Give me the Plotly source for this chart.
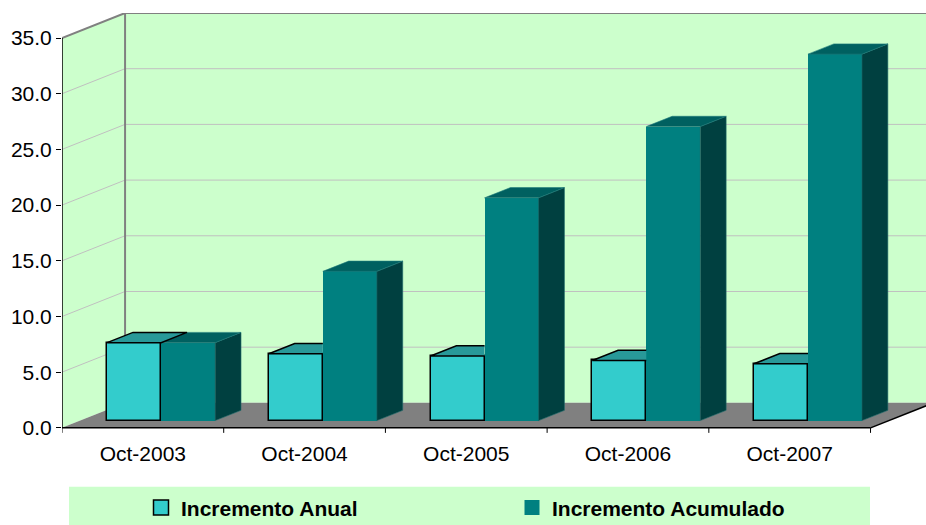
import plotly.graph_objects as go

# ---------------- data ----------------
categories = ["Oct-2003", "Oct-2004", "Oct-2005", "Oct-2006", "Oct-2007"]
anual = [7.0, 6.0, 5.8, 5.4, 5.1]
acumulado = [7.0, 13.4, 20.0, 26.4, 32.9]
series_names = ["Incremento Anual", "Incremento Acumulado"]
y_ticks = [0, 5, 10, 15, 20, 25, 30, 35]
y_labels = ["%.1f" % v for v in y_ticks]

# ---------------- pseudo-3D geometry (axis units) ----------------
DEPTH_X = 0.390      # full floor depth, x component (category units)
DEPTH_Y = 2.244      # full floor depth, y component (value units)
FRONT = 0.29         # depth fraction of bar front faces
BAR_D = 0.41         # bar depth fraction
BAR_W = 0.334        # width of each bar front face
X_MIN, X_MAX = -0.5, 4.843
Y_MIN, Y_MAX = -1.0, 35 + DEPTH_Y

fx, fy = FRONT * DEPTH_X, FRONT * DEPTH_Y
bdx, bdy = BAR_D * DEPTH_X, BAR_D * DEPTH_Y
n = len(categories)
idx = list(range(n))

C_WALL = "#CCFFCC"
C_ANUAL = "#33CCCC"
C_ANUAL_TOP = "#289999"
C_ACUM = "#008080"
C_ACUM_TOP = "#006060"
C_ACUM_SIDE = "#004040"
FONT = "Liberation Sans, Arial, sans-serif"

fig = go.Figure()

# front faces as bars
fig.add_trace(go.Bar(
    x=[k + fx - BAR_W / 2 for k in idx], y=anual, base=fy, width=BAR_W,
    marker=dict(color=C_ANUAL, line=dict(color="black", width=1.5)),
    showlegend=False, hoverinfo="skip"))
fig.add_trace(go.Bar(
    x=[k + fx + BAR_W / 2 for k in idx], y=acumulado, base=fy, width=BAR_W,
    marker=dict(color=C_ACUM, line=dict(color=C_ACUM, width=0)),
    showlegend=False, hoverinfo="skip"))

# acumulado top & side faces
top_x, top_y, side_x, side_y = [], [], [], []
for k in idx:
    x0 = k + fx
    x1 = x0 + BAR_W
    yt = fy + acumulado[k]
    top_x += [x0, x1, x1 + bdx, x0 + bdx, x0, None]
    top_y += [yt, yt, yt + bdy, yt + bdy, yt, None]
    side_x += [x1, x1 + bdx, x1 + bdx, x1, x1, None]
    side_y += [fy, fy + bdy, yt + bdy, yt, fy, None]
fig.add_trace(go.Scatter(x=side_x, y=side_y, fill="toself", fillcolor=C_ACUM_SIDE,
                         mode="lines", line=dict(color="#1f6a6a", width=0.6),
                         showlegend=False, hoverinfo="skip"))
fig.add_trace(go.Scatter(x=top_x, y=top_y, fill="toself", fillcolor=C_ACUM_TOP,
                         mode="lines", line=dict(color="#1f7a7a", width=0.6),
                         showlegend=False, hoverinfo="skip"))

# anual top faces (part hidden behind the taller neighbour is left out)
at_x, at_y, ol_x, ol_y = [], [], [], []
for k in idx:
    x0 = k + fx - BAR_W
    x1 = k + fx
    yt = fy + anual[k]
    if acumulado[k] > anual[k]:
        at_x += [x0, x1, x1, x0 + bdx, x0, None]
        at_y += [yt, yt, yt + bdy, yt + bdy, yt, None]
        ol_x += [x1, x0, x0 + bdx, x1, None]
        ol_y += [yt, yt, yt + bdy, yt + bdy, None]
    else:
        at_x += [x0, x1, x1 + bdx, x0 + bdx, x0, None]
        at_y += [yt, yt, yt + bdy, yt + bdy, yt, None]
        ol_x += [x0, x1, x1 + bdx, x0 + bdx, x0, None]
        ol_y += [yt, yt, yt + bdy, yt + bdy, yt, None]
fig.add_trace(go.Scatter(x=at_x, y=at_y, fill="toself", fillcolor=C_ANUAL_TOP,
                         mode="lines", line=dict(color=C_ANUAL_TOP, width=0),
                         showlegend=False, hoverinfo="skip"))
fig.add_trace(go.Scatter(x=ol_x, y=ol_y, mode="lines",
                         line=dict(color="black", width=1.5),
                         showlegend=False, hoverinfo="skip"))

# legend entries
fig.add_trace(go.Scatter(x=[None], y=[None], mode="markers", name=series_names[0],
                         marker=dict(symbol="square", size=15, color=C_ANUAL,
                                     line=dict(color="black", width=1.5))))
fig.add_trace(go.Scatter(x=[None], y=[None], mode="markers", name=series_names[1],
                         marker=dict(symbol="square", size=15, color=C_ACUM,
                                     line=dict(color=C_ACUM, width=0))))

# ---------------- walls, floor, gridlines ----------------
shapes = []
bx = X_MIN + DEPTH_X
# left wall
shapes.append(dict(type="path", xref="x", yref="y", layer="below",
                   path=f"M {X_MIN},0 L {X_MIN},35 L {bx},{35 + DEPTH_Y} L {bx},{DEPTH_Y} Z",
                   fillcolor=C_WALL, line=dict(width=0)))
# back wall
shapes.append(dict(type="rect", xref="x", yref="y", layer="below",
                   x0=bx, x1=X_MAX + 1, y0=DEPTH_Y, y1=35 + DEPTH_Y,
                   fillcolor=C_WALL, line=dict(width=0)))
# gridlines
for t in y_ticks[1:-1]:
    shapes.append(dict(type="line", xref="x", yref="y", layer="below",
                       x0=X_MIN, y0=t, x1=bx, y1=t + DEPTH_Y,
                       line=dict(color="#C0C0C0", width=1)))
    shapes.append(dict(type="line", xref="x", yref="y", layer="below",
                       x0=bx, y0=t + DEPTH_Y, x1=X_MAX + 1, y1=t + DEPTH_Y,
                       line=dict(color="#C0C0C0", width=1)))
# wall borders
for (xa, ya, xb, yb) in [(X_MIN, 35, bx, 35 + DEPTH_Y),
                         (bx, 35 + DEPTH_Y, X_MAX + 1, 35 + DEPTH_Y),
                         (bx, DEPTH_Y, bx, 35 + DEPTH_Y)]:
    shapes.append(dict(type="line", xref="x", yref="y", layer="below",
                       x0=xa, y0=ya, x1=xb, y1=yb,
                       line=dict(color="#808080", width=2)))
# floor
x_end = n - 0.5
shapes.append(dict(type="path", xref="x", yref="y", layer="below",
                   path=f"M {X_MIN},0 L {x_end},0 L {x_end + DEPTH_X},{DEPTH_Y} L {bx},{DEPTH_Y} Z",
                   fillcolor="#808080", line=dict(width=0)))
shapes.append(dict(type="line", xref="x", yref="y", layer="below",
                   x0=X_MIN, y0=0, x1=x_end, y1=0, line=dict(color="black", width=1.5)))
shapes.append(dict(type="line", xref="x", yref="y", layer="below",
                   x0=x_end, y0=0, x1=x_end + DEPTH_X, y1=DEPTH_Y,
                   line=dict(color="black", width=1.5)))
# front value axis line
shapes.append(dict(type="line", xref="x", yref="y", layer="below",
                   x0=X_MIN, y0=0, x1=X_MIN, y1=35, line=dict(color="black", width=1.5)))
# category tick marks
for k in range(n + 1):
    shapes.append(dict(type="line", xref="x", yref="y", layer="below",
                       x0=k - 0.5, y0=0, x1=k - 0.5, y1=-0.45,
                       line=dict(color="black", width=1)))
# legend background
shapes.append(dict(type="rect", xref="paper", yref="paper", layer="below",
                   x0=(69 - 62) / 864, x1=(870 - 62) / 864, y0=-0.215, y1=-0.1123,
                   fillcolor=C_WALL, line=dict(width=0)))

fig.update_layout(
    width=926, height=525,
    margin=dict(l=62, r=0, t=13, b=86, autoexpand=False),
    paper_bgcolor="white", plot_bgcolor="rgba(0,0,0,0)",
    barmode="overlay", bargap=0,
    shapes=shapes,
    font=dict(family=FONT, size=21, color="black"),
    showlegend=True,
    legend=dict(orientation="h", x=(141 - 62) / 864, xanchor="left",
                y=-0.1616, yanchor="middle",
                bgcolor="rgba(0,0,0,0)", borderwidth=0,
                entrywidth=326, entrywidthmode="pixels",
                font=dict(family=FONT, size=21, color="black", weight="bold")),
    xaxis=dict(range=[X_MIN, X_MAX], tickmode="array", tickvals=idx, ticktext=categories,
               showgrid=False, zeroline=False, showline=False, ticks="",
               tickfont=dict(family=FONT, size=21, color="black"), fixedrange=True),
    yaxis=dict(range=[Y_MIN, Y_MAX], tickmode="array", tickvals=y_ticks, ticktext=y_labels,
               showgrid=False, zeroline=False, showline=False,
               ticks="outside", ticklen=5, tickcolor="black", tickwidth=1,
               tickfont=dict(family=FONT, size=21, color="black"), fixedrange=True),
)

fig.write_html("out.html", config={"displayModeBar": False},
               post_script="document.body.style.margin='0';document.body.style.overflow='hidden';")
